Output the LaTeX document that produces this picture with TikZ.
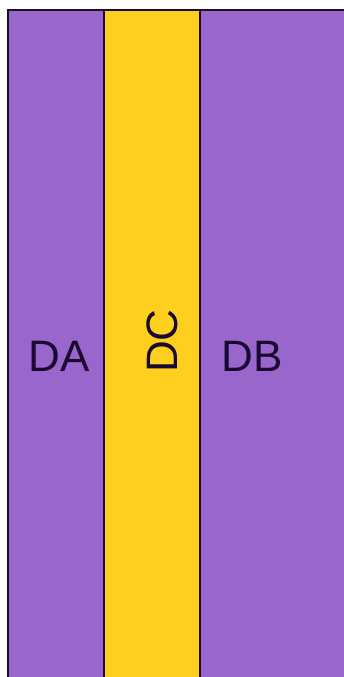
\documentclass[tikz,border=0pt]{standalone}
\usepackage{fontspec}
\setmainfont{Liberation Sans}
\definecolor{panelpurple}{HTML}{9966CC}
\definecolor{panelyellow}{HTML}{FFCF1F}
\definecolor{edgedark}{HTML}{1E0C2A}
\definecolor{textdark}{HTML}{1A0A33}
\begin{document}
\begin{tikzpicture}[x=1pt,y=-1pt,
  panel/.style={draw=edgedark,line width=1.6pt,inner sep=0pt,outer sep=0pt},
  lbl/.style={text=textdark,font=\fontsize{44}{50}\selectfont,inner sep=0pt,text height=31.5pt,text depth=0pt}]
\useasboundingbox (0,0) rectangle (344,677);
\fill[white] (0,0) rectangle (344,677);
\begin{scope}
\clip (0,0) rectangle (344,677);
\filldraw[panel,fill=panelpurple] (8,10) rectangle (104,690);
\filldraw[panel,fill=panelyellow] (104,10) rectangle (200,690);
\filldraw[panel,fill=panelpurple] (200,10) rectangle (360,690);
\end{scope}
\node[lbl] (da) at (59,356) {DA};
\node[lbl,rotate=90] (dc) at (162,341) {DC};
\node[lbl] (db) at (252,356) {DB};
\end{tikzpicture}
\end{document}
